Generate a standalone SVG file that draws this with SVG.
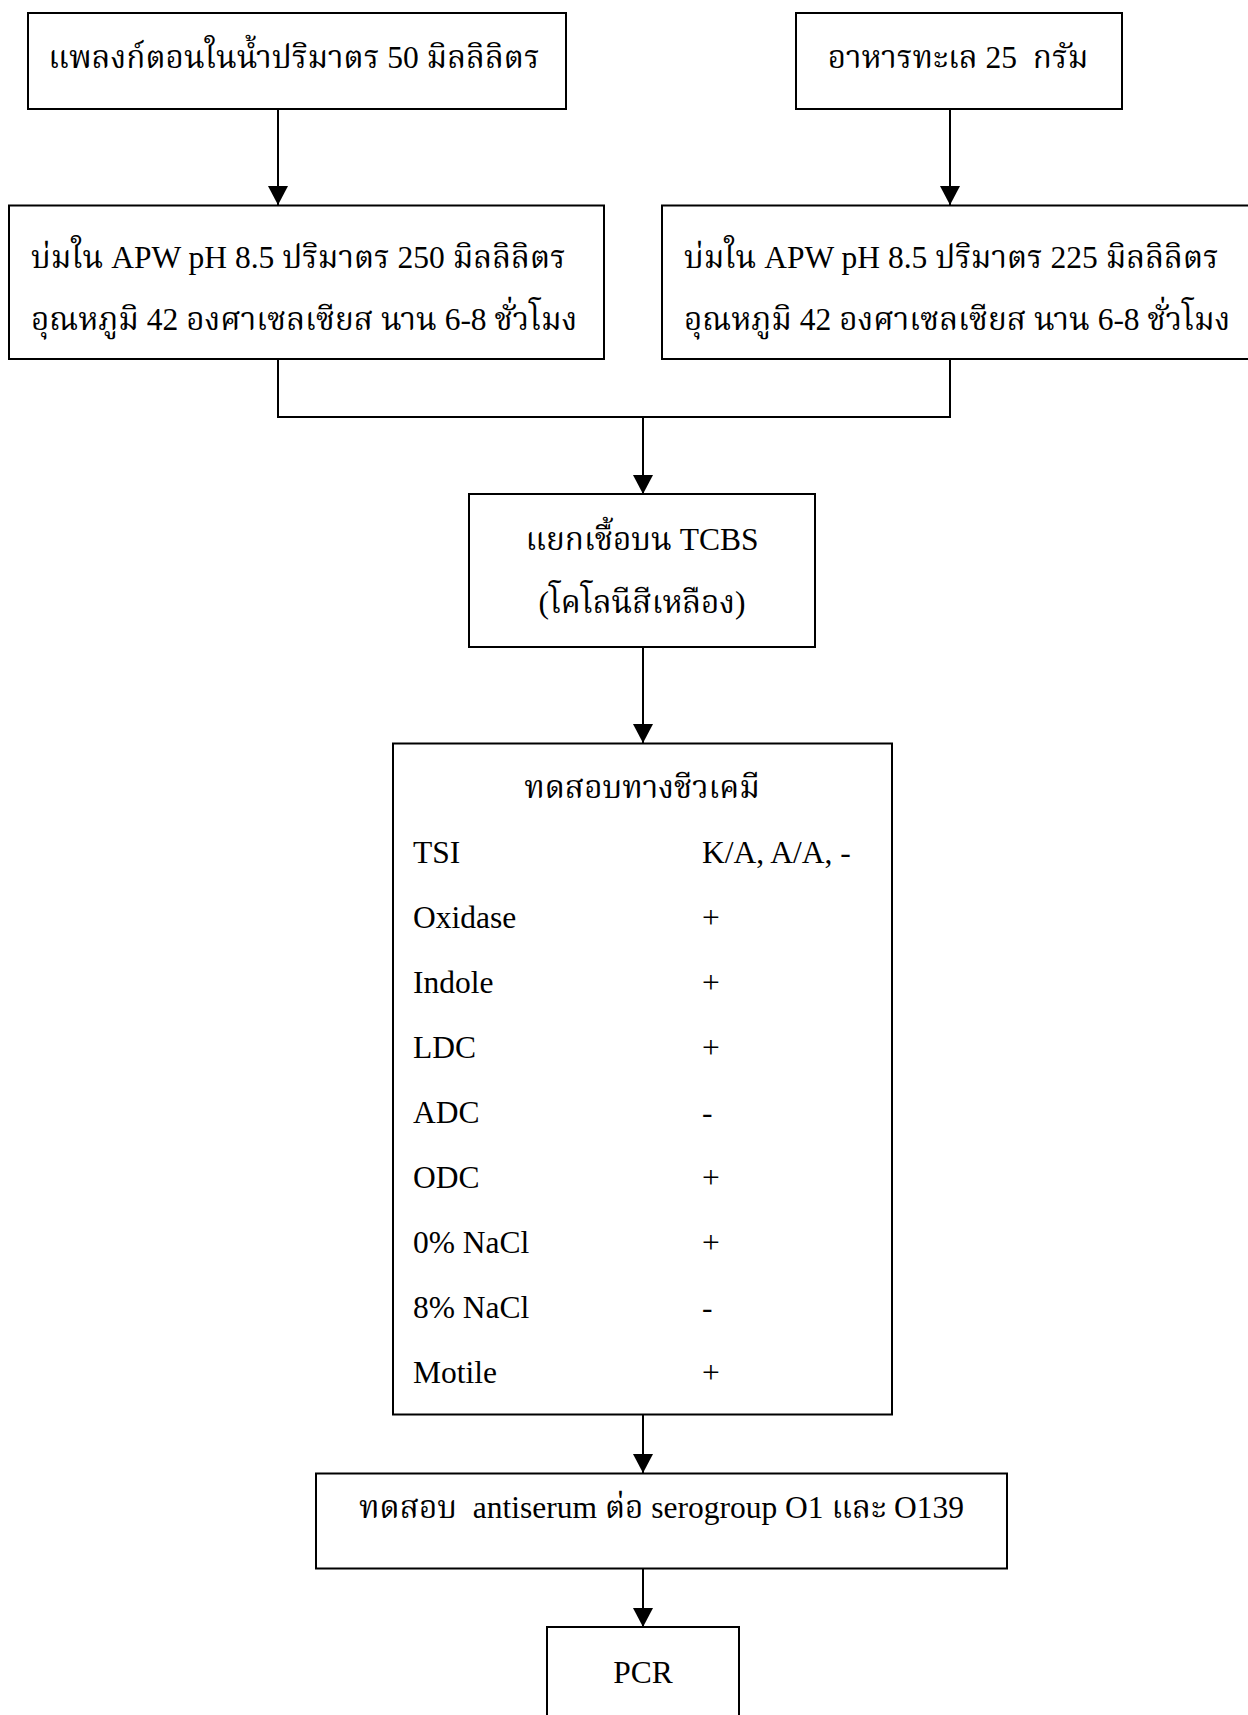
<svg xmlns="http://www.w3.org/2000/svg" width="1248" height="1715" viewBox="0 0 1248 1715">
<defs>
<style>
.box{fill:#fff;stroke:#000;stroke-width:2}
.ln{fill:none;stroke:#000;stroke-width:2}
text{font-family:"Liberation Serif","Noto Serif Thai","Noto Sans Thai","Garuda","Loma","Norasi","TlwgTypo",serif;font-size:31.5px;fill:#000;white-space:pre}
.c{text-anchor:middle}
</style>
<marker id="ah" markerUnits="userSpaceOnUse" markerWidth="20" markerHeight="20" refX="19" refY="10" orient="auto">
<path d="M0,0 L19,10 L0,20 Z" fill="#000"/>
</marker>
</defs>
<rect width="1248" height="1715" fill="#fff"/>
<g id="connectors">
<line class="ln" x1="278" y1="109" x2="278" y2="205" marker-end="url(#ah)"/>
<line class="ln" x1="950" y1="109" x2="950" y2="205" marker-end="url(#ah)"/>
<polyline class="ln" points="278,359 278,417 950,417 950,359"/>
<line class="ln" x1="643" y1="417" x2="643" y2="494" marker-end="url(#ah)"/>
<line class="ln" x1="643" y1="647" x2="643" y2="743" marker-end="url(#ah)"/>
<line class="ln" x1="643" y1="1415" x2="643" y2="1473" marker-end="url(#ah)"/>
<line class="ln" x1="643" y1="1569" x2="643" y2="1627" marker-end="url(#ah)"/>
</g>
<g id="n1">
<rect class="box" x="28" y="13" width="538" height="96"/>
<text class="c" x="294" y="68">แพลงก์ตอนในน้ำปริมาตร 50 มิลลิลิตร</text>
</g>
<g id="n2">
<rect class="box" x="796" y="13" width="326" height="96"/>
<text class="c" x="958" y="68">อาหารทะเล 25  กรัม</text>
</g>
<g id="n3">
<rect class="box" x="9" y="205.5" width="595" height="153.5"/>
<text x="31" y="268">บ่มใน APW pH 8.5 ปริมาตร 250 มิลลิลิตร</text>
<text x="31" y="330">อุณหภูมิ 42 องศาเซลเซียส นาน 6-8 ชั่วโมง</text>
</g>
<g id="n4">
<rect class="box" x="662" y="205.5" width="600" height="153.5"/>
<text x="684" y="268">บ่มใน APW pH 8.5 ปริมาตร 225 มิลลิลิตร</text>
<text x="684" y="330">อุณหภูมิ 42 องศาเซลเซียส นาน 6-8 ชั่วโมง</text>
</g>
<g id="n5">
<rect class="box" x="469" y="494" width="346" height="153"/>
<text class="c" x="642" y="550">แยกเชื้อบน TCBS</text>
<text class="c" x="642" y="613">(โคโลนีสีเหลือง)</text>
</g>
<g id="n6">
<rect class="box" x="393" y="743.5" width="499" height="671"/>
<text class="c" x="642" y="798">ทดสอบทางชีวเคมี</text>
<text x="413" y="863">TSI</text><text x="702" y="863">K/A, A/A, -</text>
<text x="413" y="928">Oxidase</text><text x="702" y="928">+</text>
<text x="413" y="993">Indole</text><text x="702" y="993">+</text>
<text x="413" y="1058">LDC</text><text x="702" y="1058">+</text>
<text x="413" y="1123">ADC</text><text x="702" y="1123">-</text>
<text x="413" y="1188">ODC</text><text x="702" y="1188">+</text>
<text x="413" y="1253">0% NaCl</text><text x="702" y="1253">+</text>
<text x="413" y="1318">8% NaCl</text><text x="702" y="1318">-</text>
<text x="413" y="1383">Motile</text><text x="702" y="1383">+</text>
</g>
<g id="n7">
<rect class="box" x="316" y="1473.5" width="691" height="95"/>
<text class="c" x="661.5" y="1518">ทดสอบ  antiserum ต่อ serogroup O1 และ O139</text>
</g>
<g id="n8">
<rect class="box" x="547" y="1627" width="192" height="110"/>
<text class="c" x="643" y="1683">PCR</text>
</g>
</svg>
